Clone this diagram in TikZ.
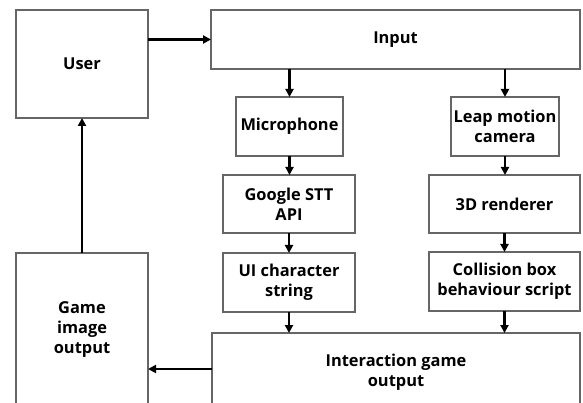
\documentclass[tikz,border=0pt]{standalone}
\usepackage{fontspec}
\setmainfont{Open Sans}[BoldFont={Open Sans Bold}]
\usetikzlibrary{arrows.meta}
\begin{document}
\begin{tikzpicture}[x=0.75pt,y=-0.75pt,
  box/.style={draw=black!60, line width=0.8pt, fill=white, outer sep=0pt, inner sep=1pt,
    align=center, font=\bfseries\fontsize{12.3}{15}\selectfont},
  arr/.style={line width=1.9pt, -{Triangle[length=6pt,width=6pt]}}]
\useasboundingbox (0,0) rectangle (583,403);
\clip (0,0) rectangle (583,403);
\fill[white] (0,0) rectangle (583,403);
\node[box, minimum width=99pt, minimum height=81pt] (user) at (82,64) {User};
\node[box, minimum width=276.75pt, minimum height=44.25pt] (input) at (395.5,39.5) {Input};
\node[box, minimum width=80.25pt, minimum height=44.25pt] (mic) at (289.5,126.5) {Microphone};
\node[box, minimum width=81pt, minimum height=44.25pt] (leap) at (505,126.5) {Leap motion\\camera};
\node[box, minimum width=99pt, minimum height=43.5pt] (stt) at (289,204) {Google STT\\API};
\node[box, minimum width=113.25pt, minimum height=43.5pt] (render) at (504.5,204) {3D renderer};
\node[box, minimum width=99pt, minimum height=44.25pt] (ui) at (289,282.5) {UI character\\string};
\node[box, minimum width=113.25pt, minimum height=44.25pt] (coll) at (504.5,281.5) {Collision box\\behaviour script};
\node[box, minimum width=276pt, minimum height=58.5pt] (inter) at (396,372) {Interaction game\\output};
\node[box, minimum width=99pt, minimum height=115.5pt] (game) at (82,330) {Game\\image\\output};
\draw[arr] (user.east |- input.west) -- (input.west);
\draw[arr] (input.south -| mic.north) -- (mic.north);
\draw[arr] (input.south -| leap.north) -- (leap.north);
\draw[arr] (mic.south) -- (mic.south |- stt.north);
\draw[arr] (stt.south) -- (ui.north);
\draw[arr] (ui.south) -- (ui.south |- inter.north);
\draw[arr] (leap.south) -- (leap.south |- render.north);
\draw[arr] (render.south) -- (render.south |- coll.north);
\draw[arr] (coll.south) -- (coll.south |- inter.north);
\draw[arr] (inter.west |- 0,369) -- (game.east |- 0,369);
\draw[arr] (game.north) -- (user.south);
\end{tikzpicture}
\end{document}
